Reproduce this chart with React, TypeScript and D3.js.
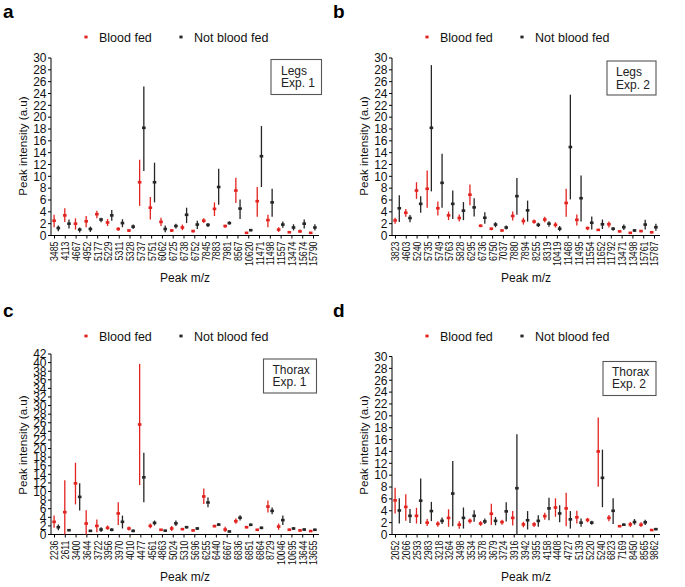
import React from "react";
import * as d3 from "d3";

// ---------- Data ----------
const catsA = ["3485","4113","4667","4952","5177","5229","5311","5328","5737","5751","6062","6725","6738","6752","7845","7883","7981","8567","10620","11471","11498","11557","13474","15674","15790"];
const redMeanA = [2.5,3.4,2.0,2.4,3.6,2.2,1.1,0.85,9.0,4.7,2.3,0.85,1.35,0.75,2.5,4.5,1.6,7.6,0.45,5.8,2.6,1.0,0.55,0.7,0.45];
const redLoA = [1.4,2.3,1.0,1.4,2.9,1.6,0.8,0.6,5.0,2.7,1.6,0.6,0.9,0.5,2.1,3.3,1.3,5.5,0.3,3.15,1.4,0.6,0.45,0.45,0.3];
const redHiA = [3.5,4.6,2.9,3.3,4.2,2.8,1.4,1.0,12.8,6.5,3.0,1.05,1.85,0.9,2.9,5.6,1.8,9.75,0.6,8.2,3.5,1.4,0.7,1.0,0.6];
const blkMeanA = [1.25,2.0,1.0,1.1,2.7,3.4,2.1,1.5,18.2,9.0,1.1,1.6,3.5,1.85,1.8,8.2,2.1,4.55,0.9,13.4,5.6,1.85,1.35,2.0,1.35];
const blkLoA = [0.7,1.2,0.5,0.6,2.25,2.5,1.4,1.1,10.9,5.6,0.55,1.2,2.1,1.1,1.45,5.2,1.85,2.8,0.7,8.2,3.15,1.3,0.85,1.2,0.85];
const blkHiA = [1.7,2.7,1.35,1.5,3.0,4.3,2.75,1.85,25.2,12.3,1.7,2.0,4.7,2.5,2.1,11.3,2.4,6.1,1.1,18.5,7.9,2.35,1.9,2.7,1.9];

const catsB = ["3823","4603","5240","5735","5749","5763","5828","6295","6736","6750","7037","7880","7894","8255","8319","10419","11468","11495","11554","11652","11792","13471","13498","15761","15787"];
const redMeanB = [2.55,3.85,7.6,7.9,4.6,3.4,2.95,6.9,1.65,1.15,0.85,3.3,2.45,2.35,2.7,1.8,5.5,2.65,1.25,0.95,1.9,0.7,0.45,0.75,0.55];
const redLoB = [2.0,3.15,6.2,4.7,3.4,2.6,2.35,5.1,1.4,0.9,0.7,2.55,1.85,2.0,2.25,1.35,3.15,1.7,0.9,0.8,1.35,0.55,0.3,0.55,0.4];
const redHiB = [3.0,4.5,9.0,11.0,5.75,4.05,3.55,8.6,1.85,1.3,1.0,4.05,3.0,2.7,3.15,2.25,7.9,3.55,1.5,1.1,2.35,0.85,0.6,0.95,0.7];
const blkMeanB = [4.6,2.95,5.35,18.2,8.9,5.35,4.2,4.75,3.0,1.85,1.35,6.65,4.25,1.8,2.0,1.15,14.95,6.3,2.15,1.9,1.15,1.4,0.85,1.85,1.4];
const blkLoB = [2.3,2.25,3.85,7.45,4.7,2.8,2.6,3.2,2.0,1.4,1.0,3.5,2.35,1.45,1.5,0.7,6.1,2.35,1.0,1.1,0.8,0.95,0.6,1.0,0.8];
const blkHiB = [6.8,3.45,6.65,28.8,13.8,7.6,5.65,6.3,3.95,2.25,1.7,9.7,5.9,2.15,2.4,1.6,23.8,10.15,3.2,2.7,1.4,1.85,1.05,2.65,2.0];

const catsC = ["2236","2611","3400","3644","3722","3956","3970","4010","4477","4561","4863","5024","5310","5696","6255","6440","6667","6836","6851","6864","8729","10046","10695","13644","13655"];
const redMeanC = [2.95,5.2,11.9,2.55,2.0,1.55,4.9,1.4,25.6,2.0,1.1,1.4,1.25,0.95,8.85,1.95,1.15,3.1,1.7,1.1,6.5,1.85,1.1,0.95,0.8];
const redLoC = [1.55,0,7.0,0,0.55,1.1,2.2,0.95,11.5,1.45,0.9,0.8,1.0,0.75,7.1,1.65,0.6,2.5,1.4,0.9,5.1,1.1,0.8,0.7,0.6];
const redHiC = [4.4,12.6,16.7,5.65,3.5,2.1,7.5,1.85,39.7,2.55,1.3,2.0,1.5,1.15,10.7,2.25,1.8,3.7,2.0,1.3,7.9,2.55,1.4,1.2,1.0];
const blkMeanC = [1.7,1.0,8.75,0.85,1.15,1.1,2.95,0.85,13.3,2.7,0.9,2.6,1.7,1.4,7.45,2.3,0.7,3.9,2.25,1.55,5.5,3.35,1.4,1.15,1.1];
const blkLoC = [1.0,0.85,5.6,0.7,0.6,0.75,1.4,0.55,7.5,2.1,0.75,1.95,1.4,1.1,6.35,2.0,0.5,3.25,1.95,1.25,4.7,2.2,1.1,0.85,0.85];
const blkHiC = [2.3,1.15,11.9,1.0,1.7,1.45,4.4,1.15,19.0,3.25,1.05,3.25,2.0,1.7,8.6,2.6,0.95,4.5,2.55,1.85,6.3,4.4,1.7,1.45,1.35];

const catsD = ["2052","2066","2593","2983","3218","3264","3498","3534","3578","3679","3724","3916","3942","3955","4158","4408","4727","5139","5220","5240","6823","7169","8450","8565","9862"];
const redMeanD = [5.75,4.65,3.15,2.0,1.8,2.8,1.65,2.3,1.85,3.5,2.1,2.8,1.7,1.7,3.1,4.55,4.4,2.9,2.45,14.0,2.8,1.4,1.7,1.65,0.75];
const redLoD = [3.55,2.3,1.85,1.45,1.3,1.3,0.95,1.85,1.45,1.6,1.65,1.5,1.2,1.25,2.5,3.0,1.4,1.85,2.05,8.05,2.25,1.25,1.25,1.25,0.65];
const redHiD = [7.9,6.8,4.5,2.6,2.25,4.25,2.25,2.7,2.25,5.2,2.5,3.95,2.15,2.1,3.65,6.1,7.05,4.0,2.8,19.7,3.3,1.55,2.1,2.05,0.85];
const blkMeanD = [4.05,3.15,5.7,3.95,2.3,6.9,2.8,3.15,2.2,2.3,3.9,7.8,2.4,2.3,4.4,3.55,2.55,2.0,2.0,9.55,4.0,1.65,2.1,2.05,0.9];
const blkLoD = [1.85,1.95,1.75,2.25,1.75,1.4,1.0,2.15,1.75,1.55,2.2,0,0.85,1.3,2.4,2.05,1.0,1.3,1.65,4.6,1.75,1.45,1.65,1.6,0.8];
const blkHiD = [6.1,4.3,9.45,5.5,2.85,12.4,4.55,4.1,2.7,2.95,5.45,16.9,3.95,3.25,6.2,4.95,3.95,2.7,2.3,14.3,6.1,1.85,2.6,2.5,1.0];

const seriesNames = ["Blood fed", "Not blood fed"];
const xTitle = "Peak m/z";
const yTitle = "Peak intensity (a.u)";

// ---------- Styling ----------
const FONT = "'Liberation Sans', Arial, Helvetica, sans-serif";
const RED = "#e2231f";
const BLK = "#262626";

type PanelDef = {
  label: string;
  ox: number; oy: number;
  max: number; yTop: number;
  cats: string[];
  rm: number[]; rl: number[]; rh: number[];
  bm: number[]; bl: number[]; bh: number[];
  box: { x: number; y: number; w: number; h: number; tx: number; l1: string; l2: string; b1: number; b2: number };
};

const panels: PanelDef[] = [
  { label: "a", ox: 0, oy: 0, max: 30, yTop: 58, cats: catsA, rm: redMeanA, rl: redLoA, rh: redHiA, bm: blkMeanA, bl: blkLoA, bh: blkHiA,
    box: { x: 271, y: 59.5, w: 50.5, h: 35, tx: 281, l1: "Legs", l2: "Exp. 1", b1: 74.5, b2: 87 } },
  { label: "b", ox: 341, oy: 0, max: 30, yTop: 58, cats: catsB, rm: redMeanB, rl: redLoB, rh: redHiB, bm: blkMeanB, bl: blkLoB, bh: blkHiB,
    box: { x: 266, y: 61, w: 49, h: 34, tx: 275, l1: "Legs", l2: "Exp. 2", b1: 76, b2: 88.5 } },
  { label: "c", ox: 0, oy: 299, max: 42, yTop: 55, cats: catsC, rm: redMeanC, rl: redLoC, rh: redHiC, bm: blkMeanC, bl: blkLoC, bh: blkHiC,
    box: { x: 263.5, y: 60, w: 53, h: 34, tx: 272.5, l1: "Thorax", l2: "Exp. 1", b1: 75, b2: 87 } },
  { label: "d", ox: 341, oy: 299, max: 30, yTop: 57.5, cats: catsD, rm: redMeanD, rl: redLoD, rh: redHiD, bm: blkMeanD, bl: blkLoD, bh: blkHiD,
    box: { x: 262, y: 62.5, w: 53, h: 34, tx: 271, l1: "Thorax", l2: "Exp. 2", b1: 77, b2: 89 } },
];

const AXIS_X = 51;
const AXIS_END = 319;
const Y0 = 235.5;

function Panel({ p }: { p: PanelDef }) {
  const y = d3.scaleLinear().domain([0, p.max]).range([Y0, p.yTop]);
  const xPt = d3.scalePoint<string>().domain(p.cats).range([56.2, 312.8]);
  const xTk = d3.scalePoint<string>().domain(p.cats).range([54.5, 313.5]);
  const ticks = d3.range(0, p.max + 0.001, 2);
  const off = 2.1;
  const mw = 3.6, mh = 2.6;

  const series = [
    { color: RED, dx: -off, m: p.rm, lo: p.rl, hi: p.rh },
    { color: BLK, dx: off, m: p.bm, lo: p.bl, hi: p.bh },
  ];

  return (
    <g transform={`translate(${p.ox},${p.oy})`} fontFamily={FONT}>
      <text x={p.ox === 0 ? 3 : -8} y={18} fontSize={19} fontWeight="bold" fill="#000">{p.label}</text>

      {/* legend */}
      <rect x={86 - 1.6} y={37 - 1.4} width={3.2} height={2.8} fill={RED} />
      <text x={99} y={41.5} fontSize={12.5} fill="#111">{seriesNames[0]}</text>
      <rect x={181 - 1.6} y={37 - 1.4} width={3.2} height={2.8} fill={BLK} />
      <text x={194} y={41.5} fontSize={12.5} fill="#111">{seriesNames[1]}</text>

      {/* box */}
      <rect x={p.box.x} y={p.box.y} width={p.box.w} height={p.box.h} fill="#fff" stroke="#555" strokeWidth={1.1} />
      <text x={p.box.tx} y={p.box.b1} fontSize={12} fill="#222">{p.box.l1}</text>
      <text x={p.box.tx} y={p.box.b2} fontSize={12} fill="#222">{p.box.l2}</text>

      {/* y axis */}
      <line x1={AXIS_X} x2={AXIS_X} y1={y(p.max)} y2={Y0} stroke="#000" strokeWidth={1} />
      {ticks.map((t) => (
        <g key={"yt" + t}>
          <line x1={AXIS_X - 3} x2={AXIS_X} y1={y(t)} y2={y(t)} stroke="#000" strokeWidth={1} />
          <text x={AXIS_X - 4.5} y={y(t)} dy="0.36em" textAnchor="end" fontSize={12} fill="#111">{t}</text>
        </g>
      ))}
      <text transform={`translate(22.5,146) rotate(-90)`} dy="0.36em" textAnchor="middle" fontSize={11.6} fill="#111">{yTitle}</text>

      {/* x axis */}
      <line x1={AXIS_X} x2={AXIS_END} y1={Y0} y2={Y0} stroke="#000" strokeWidth={1} />
      {p.cats.map((c) => (
        <g key={"xt" + c}>
          <line x1={xTk(c)} x2={xTk(c)} y1={Y0} y2={Y0 + 3} stroke="#000" strokeWidth={1} />
          <text transform={`translate(${xTk(c)},${Y0 + 6}) rotate(-90) scale(0.8,1)`} dy="0.36em" textAnchor="end" fontSize={11} fill="#111">{c}</text>
        </g>
      ))}
      <text x={185} y={282} textAnchor="middle" fontSize={12} fill="#111">{xTitle}</text>

      {/* error bars */}
      {series.map((s, si) => (
        <g key={"s" + si}>
          {p.cats.map((c, i) => {
            const cx = (xPt(c) as number) + s.dx;
            return (
              <g key={c}>
                <line x1={cx} x2={cx} y1={y(s.lo[i])} y2={y(s.hi[i])} stroke={s.color} strokeWidth={1.3} />
                <rect x={cx - mw / 2} y={y(s.m[i]) - mh / 2} width={mw} height={mh} fill={s.color} />
              </g>
            );
          })}
        </g>
      ))}
    </g>
  );
}

export default function App() {
  return (
    <svg width={685} height={587} style={{ position: "absolute", left: 0, top: 0, background: "#fff" }}>
      <rect width={685} height={587} fill="#fff" />
      {panels.map((p) => (
        <Panel key={p.label} p={p} />
      ))}
    </svg>
  );
}
